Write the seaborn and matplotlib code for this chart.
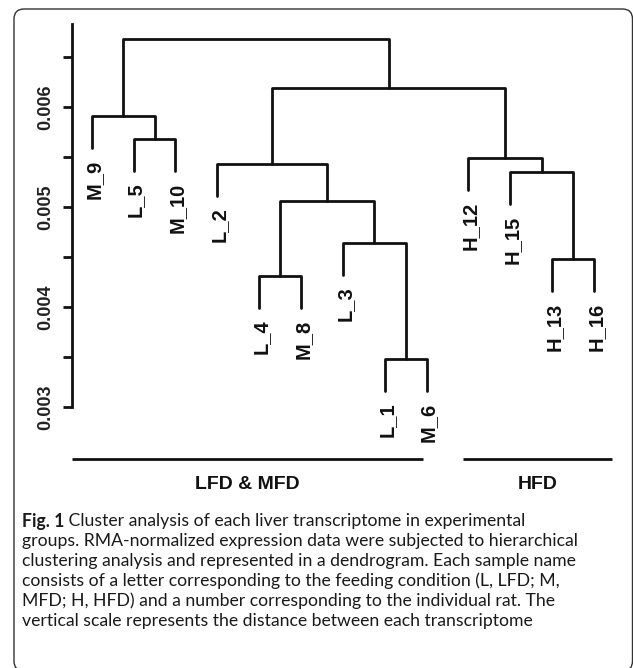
import numpy as np
import pandas as pd
import matplotlib
matplotlib.use("Agg")
import matplotlib.pyplot as plt
import seaborn as sns
from matplotlib.patches import FancyBboxPatch

# ---------------- data ----------------
leaf_labels = ["M_9", "L_5", "M_10", "L_2", "L_4", "M_8", "L_3",
               "L_1", "M_6", "H_12", "H_15", "H_13", "H_16"]
# merge table (R hclust style): negative = leaf (1-based), positive = earlier merge
merge_left = [-8, -5, -12, -7, 2, -11, -4, -10, -2, -1, 7, 10]
merge_right = [-9, -6, -13, 1, 4, 3, 5, 6, -3, 9, 8, 11]
merge_height = [0.00348, 0.00431, 0.00448, 0.00464, 0.00506, 0.00535,
                0.00543, 0.00549, 0.00568, 0.00591, 0.00619, 0.00668]
hang = 0.00032
ytick_major = [0.003, 0.004, 0.005, 0.006]
ytick_major_labels = ["0.003", "0.004", "0.005", "0.006"]
ytick_minor = [0.0035, 0.0045, 0.0055, 0.0065]
group_names = ["LFD & MFD", "HFD"]
group_start = [0.52, 9.88]
group_end = [8.92, 13.42]
caption_bold = "Fig. 1"
caption_lines = [
    " Cluster analysis of each liver transcriptome in experimental",
    "groups. RMA-normalized expression data were subjected to hierarchical",
    "clustering analysis and represented in a dendrogram. Each sample name",
    "consists of a letter corresponding to the feeding condition (L, LFD; M,",
    "MFD; H, HFD) and a number corresponding to the individual rat. The",
    "vertical scale represents the distance between each transcriptome",
]

# ---------------- build dendrogram segments ----------------
node_x = {}
node_h = {}
rows = []
leaf_bottom = {}
for k, (a, b, h) in enumerate(zip(merge_left, merge_right, merge_height), start=1):
    xs, ys = [], []
    for c in (a, b):
        if c < 0:
            xs.append(float(-c))
            ys.append(h - hang)
            leaf_bottom[-c] = h - hang
        else:
            xs.append(node_x[c])
            ys.append(node_h[c])
    node_x[k] = (xs[0] + xs[1]) / 2
    node_h[k] = h
    pts = [(xs[0], ys[0]), (xs[0], h), (xs[1], h), (xs[1], ys[1])]
    for j, (px, py) in enumerate(pts):
        rows.append({"seg": k, "order": j, "x": px, "y": py})
seg_df = pd.DataFrame(rows)

# ---------------- figure ----------------
sns.set_theme(style="ticks")
plt.rcParams["font.family"] = ["Liberation Sans", "DejaVu Sans"]

W, H = 633, 668
fig = plt.figure(figsize=(W / 100, H / 100), dpi=100)
ax_left, ax_right, ax_top, ax_bottom = 71.7, 620, 20, 500
ax = fig.add_axes([ax_left / W, 1 - ax_bottom / H,
                   (ax_right - ax_left) / W, (ax_bottom - ax_top) / H])

sns.lineplot(data=seg_df, x="x", y="y", units="seg", estimator=None,
             sort=False, color="#111111", linewidth=2.0, ax=ax, legend=False)

# leaf labels
for i, lab in enumerate(leaf_labels, start=1):
    ax.annotate(lab, xy=(i, leaf_bottom[i]), xytext=(1.5, -8),
                textcoords="offset points", rotation=90,
                rotation_mode="anchor", ha="right", va="center",
                fontsize=14.5, fontweight="bold", color="#111111")

# group bars + labels
for name, s, e in zip(group_names, group_start, group_end):
    gy = 0.002483
    ax.plot([s, e], [gy, gy], color="#111111", lw=2.0, solid_capstyle="butt")
    ax.annotate(name, xy=((s + e) / 2, gy), xytext=(0, -18),
                textcoords="offset points", ha="center", va="center",
                fontsize=14, fontweight="bold", color="#111111")

ax.set_xlim(0.522, 13.62)
ax.set_ylim(0.002073, 0.006873)
for sp in ["top", "right", "bottom"]:
    ax.spines[sp].set_visible(False)
ax.spines["left"].set_bounds(0.003, 0.00683)
ax.spines["left"].set_linewidth(2.0)
ax.spines["left"].set_color("#111111")
ax.set_xticks([])
ax.set_yticks(ytick_major)
ax.set_yticks(ytick_minor, minor=True)
ax.set_yticklabels(ytick_major_labels, rotation=90, va="center",
                   fontweight="bold", fontsize=13, color="#222222")
ax.tick_params(axis="y", which="both", length=6.5, width=2.0,
               color="#111111", pad=6)
ax.set_xlabel("")
ax.set_ylabel("")
ax.patch.set_alpha(0)

# ---------------- caption ----------------
cap_font = ["Lato", "DejaVu Sans"]
fig.canvas.draw()
renderer = fig.canvas.get_renderer()
probe_b = fig.text(0, 0, caption_bold, fontsize=12, fontweight="bold", family=cap_font)
probe_r = fig.text(0, 0, caption_lines[0], fontsize=12, family=cap_font)
wtot = probe_b.get_window_extent(renderer).width + probe_r.get_window_extent(renderer).width
probe_b.remove()
probe_r.remove()
fs = 12 * 500 / wtot

x0 = 22
y_first = 521
dy = 20
tb = fig.text(x0 / W, 1 - y_first / H, caption_bold, fontsize=fs,
              fontweight="bold", family=cap_font, va="center", color="#1a1a1a")
bb = tb.get_window_extent(renderer)
fig.text(bb.x1 / W, 1 - y_first / H, caption_lines[0], fontsize=fs,
         family=cap_font, va="center", color="#1a1a1a")
for n, line in enumerate(caption_lines[1:], start=1):
    fig.text(x0 / W, 1 - (y_first + n * dy) / H, line, fontsize=fs,
             family=cap_font, va="center", color="#1a1a1a")

# ---------------- rounded frame ----------------
frame = FancyBboxPatch((0.14, -0.03), 6.185, 6.62,
                       boxstyle="round,pad=0,rounding_size=0.1",
                       transform=fig.dpi_scale_trans, fill=False,
                       edgecolor="#333333", linewidth=1.0)
fig.patches.append(frame)

fig.savefig("out.png", dpi=100)
